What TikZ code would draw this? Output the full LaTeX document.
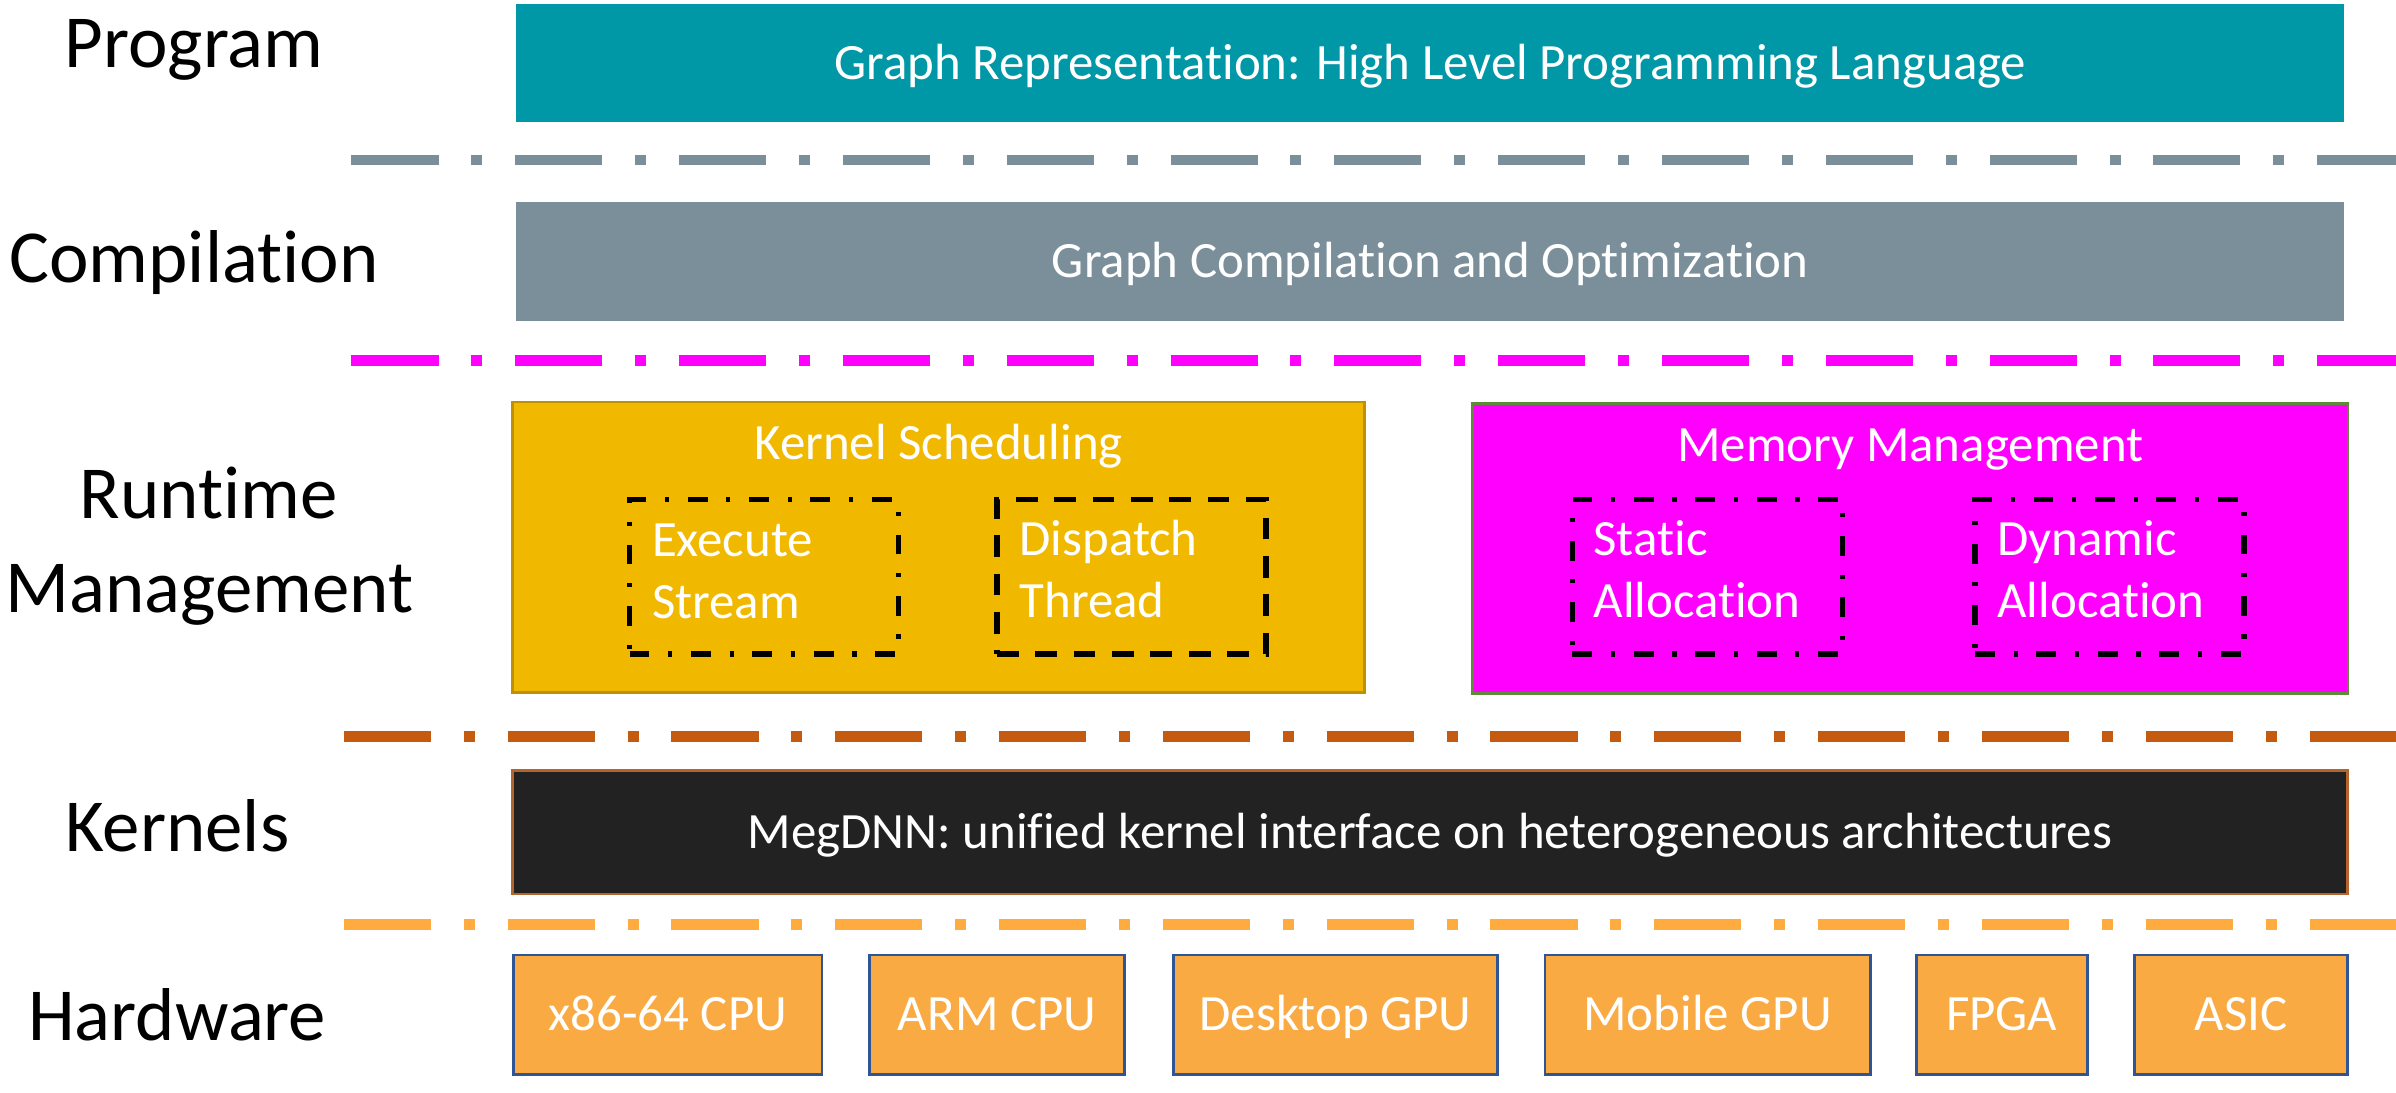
\documentclass[tikz,border=0pt]{standalone}
\usepackage{fontspec}
\setmainfont{Carlito}[Ligatures=NoCommon]
\definecolor{tealc}{HTML}{0097A7}
\definecolor{grayc}{HTML}{7B8F9B}
\definecolor{magc}{HTML}{FF00FF}
\definecolor{magborder}{HTML}{5E8A3A}
\definecolor{yelc}{HTML}{F1B800}
\definecolor{yelborder}{HTML}{BF9000}
\definecolor{blackc}{HTML}{222222}
\definecolor{blackborder}{HTML}{B5652B}
\definecolor{orangedark}{HTML}{C55A11}
\definecolor{orangelight}{HTML}{FFAB40}
\definecolor{hwfill}{HTML}{FAAA42}
\definecolor{hwborder}{HTML}{2F5597}
\begin{document}
\begin{tikzpicture}[x=1pt,y=-1pt,
  lbl/.style={font=\fontsize{49}{61}\selectfont, anchor=base, inner sep=0pt},
  sepline/.style={line width=7pt, dash pattern=on 57pt off 21.5pt on 7.2pt off 21.5pt},
  bar/.style={rectangle, inner sep=0pt, text=white, font=\fontsize{33.3}{40}\selectfont,
              text height=21.3pt, text depth=0pt},
  bigbox/.style={rectangle, inner sep=0pt, line width=1.8pt},
  ttl/.style={font=\fontsize{33.3}{40}\selectfont, text=white, anchor=base, inner sep=0pt},
  intext/.style={font=\fontsize{33.3}{40}\selectfont, text=white, anchor=base west, inner sep=0pt},
  inbox/.style={rectangle, inner sep=0pt, draw=black, line width=3.4pt},
  dashdotbox/.style={inbox, dash pattern=on 13pt off 12.2pt on 2.8pt off 12.2pt},
  dashbox/.style={inbox, dash pattern=on 14.2pt off 10.9pt},
  hw/.style={bar, fill=hwfill, draw=hwborder, line width=1.8pt, minimum height=78pt}
]
\useasboundingbox (0,0) rectangle (1568,715);

% left labels
\node[lbl] (lprog) at (127,44) {Program};
\node[lbl] (lcomp) at (127,184.6) {Compilation};
\node[lbl] (lrun1) at (136.5,339.6) {Runtime};
\node[lbl] (lrun2) at (137,401) {Management};
\node[lbl] (lker) at (116,557) {Kernels};
\node[lbl] (lhw) at (116,681) {Hardware};

% separator lines
\coordinate (s1a) at (230,104.8); \coordinate (s1b) at (1568,104.8);
\coordinate (s2a) at (230,236);   \coordinate (s2b) at (1568,236);
\coordinate (s3a) at (225,482);   \coordinate (s3b) at (1568,482);
\coordinate (s4a) at (225,605);   \coordinate (s4b) at (1568,605);
\draw[sepline, draw=grayc] (s1a) -- (s1b);
\draw[sepline, draw=magc] (s2a) -- (s2b);
\draw[sepline, draw=orangedark] (s3a) -- (s3b);
\draw[sepline, draw=orangelight] (s4a) -- (s4b);

% program & compilation
\node[bar, fill=tealc, minimum width=1196pt, minimum height=77.5pt] (prog) at (936,41.25)
  {Graph Representation: High Level Programming Language};
\node[bar, fill=grayc, minimum width=1196pt, minimum height=78pt] (comp) at (936,171)
  {Graph Compilation and Optimization};

% runtime
\node[bigbox, fill=yelc, draw=yelborder, minimum width=557.5pt, minimum height=190pt] (ks) at (614.25,358) {};
\node[ttl] (kst) at (614.25,301) {Kernel Scheduling};
\node[dashdotbox, minimum width=176pt, minimum height=101pt] (es) at (500,377.5) {};
\node[intext] (es1) at (426.5,364) {Execute};
\node[intext] (es2) at (426.5,404.5) {Stream};
\node[dashbox, minimum width=176pt, minimum height=101.3pt] (dt) at (740.5,377.35) {};
\node[intext] (dt1) at (667,363.5) {Dispatch};
\node[intext] (dt2) at (667,404) {Thread};

\node[bigbox, fill=magc, draw=magborder, minimum width=573pt, minimum height=190pt] (mm) at (1250.1,359) {};
\node[ttl] (mmt) at (1250.1,302) {Memory Management};
\node[dashdotbox, minimum width=177pt, minimum height=101.3pt] (sa) at (1117.5,377.35) {};
\node[intext] (sa1) at (1042.7,363.5) {Static};
\node[intext] (sa2) at (1042.7,404) {Allocation};
\node[dashdotbox, minimum width=176pt, minimum height=101.3pt] (da) at (1380.5,377.35) {};
\node[intext] (da1) at (1307,363.5) {Dynamic};
\node[intext] (da2) at (1307,404) {Allocation};

% kernels
\node[bar, fill=blackc, draw=blackborder, line width=1.8pt, minimum width=1200.5pt, minimum height=81pt] (ker) at (935.75,544.5)
  {MegDNN: unified kernel interface on heterogeneous architectures};

% hardware
\node[hw, minimum width=202pt] (x86) at (437,664) {x86-64 CPU};
\node[hw, minimum width=167pt] (arm) at (652.5,664) {ARM CPU};
\node[hw, minimum width=212pt] (dgpu) at (874,664) {Desktop GPU};
\node[hw, minimum width=213pt] (mgpu) at (1117.5,664) {Mobile GPU};
\node[hw, minimum width=112pt] (fpga) at (1310,664) {FPGA};
\node[hw, minimum width=139pt] (asic) at (1466.5,664) {ASIC};
\end{tikzpicture}
\end{document}
